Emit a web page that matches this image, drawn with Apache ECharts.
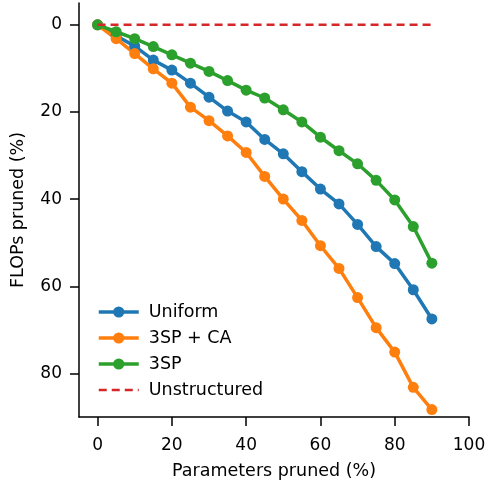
<!DOCTYPE html>
<html><head><meta charset="utf-8">
<script src="https://cdn.jsdelivr.net/npm/echarts@6/dist/echarts.min.js"></script>
<style>html,body{margin:0;padding:0;background:#fff}#c{width:486px;height:480px}</style>
</head><body><div id="c"></div>
<script>
const params = [0,5,10,15,20,25,30,35,40,45,50,55,60,65,70,75,80,85,90];
const uniform = [0,2.5,4.9,8.1,10.4,13.4,16.6,19.8,22.3,26.3,29.6,33.7,37.7,41.1,45.8,50.9,54.8,60.8,67.5];
const sp3ca = [0,3.2,6.6,10.1,13.4,18.9,22.0,25.5,29.3,34.8,40.0,44.9,50.7,55.9,62.6,69.5,75.1,83.2,88.3];
const sp3 = [0,1.6,3.2,5.0,6.9,8.8,10.7,12.8,15.0,16.8,19.5,22.3,25.8,28.9,31.9,35.7,40.2,46.3,54.7];
const unstructured = [0,0,0,0,0,0,0,0,0,0,0,0,0,0,0,0,0,0,0];
const xTicks = [0,20,40,60,80,100];
const yTicks = [0,20,40,60,80];
const seriesNames = ['Uniform','3SP + CA','3SP','Unstructured'];
const colors = ['#1f77b4','#ff7f0e','#2ca02c','#d62728'];

const font = 'DejaVu Sans';
const pair = (ys) => params.map((x,i)=>[x, ys[i]]);
const mk = (name, ys, color) => ({
  name, type:'line', data: pair(ys), symbol:'circle', symbolSize:11,
  lineStyle:{color, width:3.5}, itemStyle:{color}, z:3
});
const chart = echarts.init(document.getElementById('c'), null, {renderer:'canvas'});
chart.setOption({
  animation:false,
  textStyle:{fontFamily:font},
  grid:{left:79, right:17, top:3, bottom:63, containLabel:false, outerBoundsMode:'none'},
  xAxis:{type:'value', min:-5, max:100,
    axisLine:{show:true, onZero:false, lineStyle:{color:'#000', width:1.5}},
    axisTick:{show:true, length:9, lineStyle:{color:'#000', width:1.5}, customValues:xTicks},
    axisLabel:{fontFamily:font, fontSize:17, color:'#000', margin:20, customValues:xTicks},
    splitLine:{show:false},
    name:'Parameters pruned (%)', nameLocation:'middle', nameGap:45,
    nameTextStyle:{fontFamily:font, fontSize:17.5, color:'#000'}
  },
  yAxis:{type:'value', min:-5, max:90, inverse:true,
    axisLine:{show:true, onZero:false, lineStyle:{color:'#000', width:1.5}},
    axisTick:{show:true, length:9, lineStyle:{color:'#000', width:1.5}, customValues:yTicks},
    axisLabel:{fontFamily:font, fontSize:17, color:'#000', margin:17, customValues:yTicks},
    splitLine:{show:false},
    name:'FLOPs pruned (%)', nameLocation:'middle', nameGap:52,
    nameTextStyle:{fontFamily:font, fontSize:17.5, color:'#000'}
  },
  legend:{orient:'vertical', left:92, top:298, itemWidth:40, itemHeight:14, itemGap:8,
    lineStyle:{width:3.5},
    data:[seriesNames[0], seriesNames[1], seriesNames[2],
      {name:seriesNames[3], itemStyle:{opacity:0}, lineStyle:{width:2.5}}],
    textStyle:{fontFamily:font, fontSize:17.5, color:'#000', padding:[0,0,0,5]}
  },
  series:[
    mk(seriesNames[0], uniform, colors[0]),
    mk(seriesNames[1], sp3ca, colors[1]),
    mk(seriesNames[2], sp3, colors[2]),
    {name:seriesNames[3], type:'line', data: pair(unstructured), symbol:'none', showSymbol:false,
     lineStyle:{color:colors[3], width:2.5, type:[8,5]}, itemStyle:{color:colors[3]}, z:4}
  ]
});
</script></body></html>
